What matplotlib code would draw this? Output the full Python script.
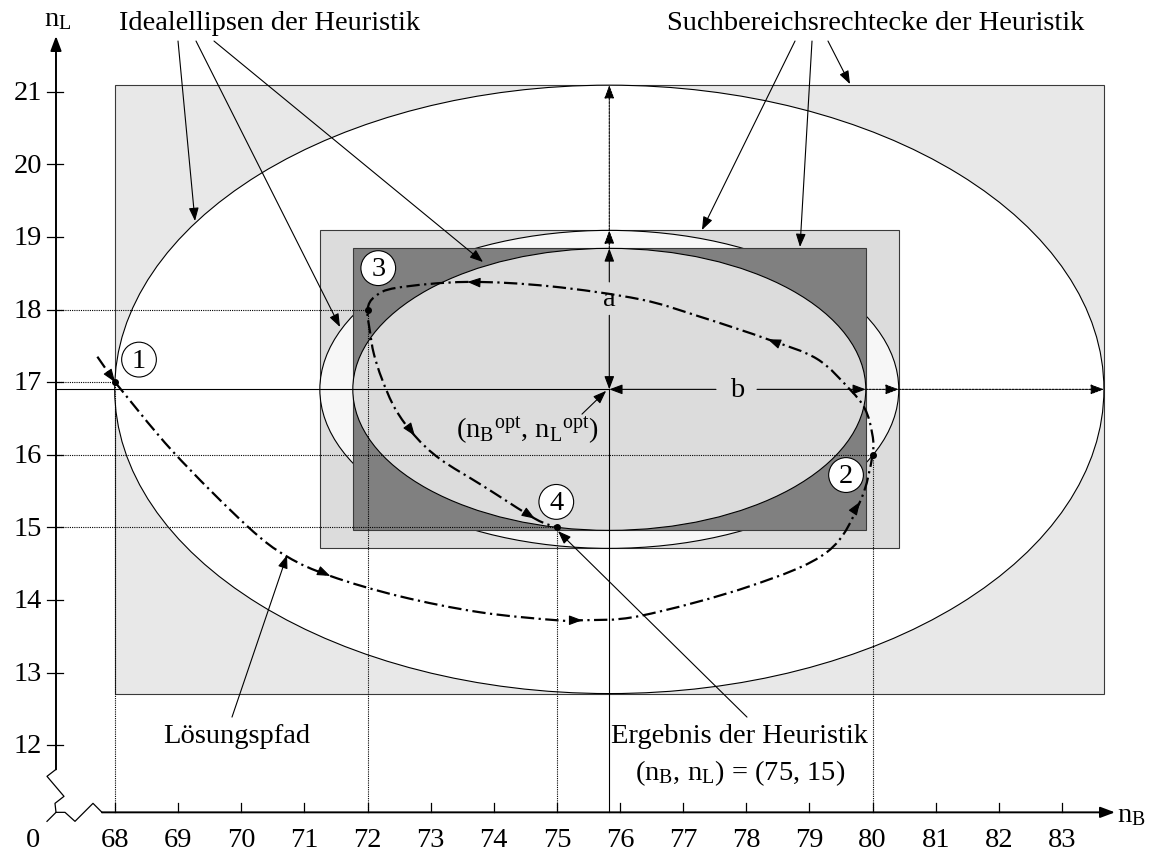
import numpy as np
import matplotlib
matplotlib.use("Agg")
import matplotlib.pyplot as plt
from matplotlib.patches import Rectangle, Ellipse, PathPatch
from matplotlib.path import Path

plt.rcParams['font.family'] = ['Liberation Serif', 'DejaVu Serif']
plt.rcParams['mathtext.fontset'] = 'custom'
plt.rcParams['mathtext.rm'] = 'Liberation Serif'
plt.rcParams['mathtext.it'] = 'Liberation Serif:italic'
FS = 20.5

# ---- data ----
x_ticks = list(range(68, 84))
y_ticks = list(range(12, 22))
center = (75.83, 16.9)
# search rectangles (half width b, half height a), largest first
rect_b = [7.835, 4.585, 4.063]
rect_a = [4.19, 2.19, 1.942]
rect_colors = ['#e8e8e8', '#dcdcdc', '#808080']
ellipse_colors = ['#ffffff', '#f7f7f7', '#dcdcdc']

# visited solutions 1..4
points_x = [68, 80, 72, 75]
points_y = [17, 16, 18, 15]
circle_x = [68.38, 79.58, 72.17, 74.99]
circle_y = [17.31, 15.72, 18.57, 15.35]

# solution path (dash-dot)
lead_in = [(67.72, 17.35), (68.0, 17.0)]
path_pts = [(68.00, 17.00), (68.92, 16.04), (70.09, 15.02), (70.72, 14.60),
            (71.41, 14.33), (72.51, 14.05), (73.78, 13.83), (75.00, 13.72),
            (75.40, 13.72), (76.32, 13.78), (78.06, 14.19), (79.28, 14.66),
            (79.80, 15.35), (80.00, 16.00), (79.99, 16.31), (79.88, 16.63),
            (79.64, 16.90), (79.12, 17.32), (78.34, 17.59), (77.27, 17.90),
            (76.32, 18.14), (74.89, 18.32), (73.58, 18.38), (72.47, 18.30),
            (72.12, 18.18), (72.00, 18.00), (72.04, 17.69), (72.10, 17.39),
            (72.23, 17.04), (72.44, 16.63), (72.75, 16.26), (73.15, 15.94),
            (73.83, 15.57), (74.65, 15.12), (75.00, 15.00)]
path_arrow_idx = [4, 8, 12, 18, 22, 30, 33]

# axis origin and break marks (pixel offsets)
origin = (67.065, 11.074)
px, py = 1 / 63.13, 1 / 72.6
ybreak = [(0, 43), (-9, 36), (8, 16), (-1, 9), (0, 0)]
xbreak = [(-9, -9), (0, 0), (9, 0), (19, -9), (37, 9), (46, 0)]

fig = plt.figure(figsize=(11.51, 8.54), dpi=100)
ax = fig.add_axes([0, 0, 1, 1])
ax.set_xlim(66.178, 84.411)
ax.set_ylim(10.514, 22.277)
ax.axis('off')

HEAD = dict(arrowstyle='-|>,head_length=0.8,head_width=0.3', mutation_scale=10,
            color='k', lw=0.8, shrinkA=0, shrinkB=0)


def arrow(tip, tail, ls='-', zorder=6):
    ax.annotate('', xy=tip, xytext=tail, arrowprops=dict(HEAD, linestyle=ls),
                zorder=zorder)


def head(tip, prev, zorder=7):
    tip = np.array(tip); prev = np.array(prev)
    ax.annotate('', xy=tip, xytext=tip - 0.05 * (tip - prev),
                arrowprops=HEAD, zorder=zorder)


cx, cy = center
for i in range(3):
    b, a = rect_b[i], rect_a[i]
    ax.add_patch(Rectangle((cx - b, cy - a), 2 * b, 2 * a, fc=rect_colors[i],
                           ec='#3a3a3a', lw=0.8, zorder=1 + 2 * i))
    ax.add_patch(Ellipse((cx, cy), 2 * b, 2 * a, fc=ellipse_colors[i],
                         ec='k', lw=0.8, zorder=2 + 2 * i))

# dotted reference lines to the points
ox, oy = origin
dot = dict(color='k', lw=0.8, ls=(0, (1, 1)), zorder=8)
for x, y in zip(points_x, points_y):
    ax.plot([ox, x], [y, y], **dot)
    ax.plot([x, x], [oy, y], **dot)

# centre lines
ax.plot([ox, cx], [cy, cy], color='k', lw=0.8, zorder=8)
ax.plot([cx, cx], [oy, cy], color='k', lw=0.8, zorder=8)

# a and b
top = [cy + a for a in rect_a][::-1]
right = [cx + b for b in rect_b][::-1]
arrow((cx, top[0]), (cx, 18.38))
arrow((cx, cy), (cx, 17.92))
arrow((cx, top[1]), (cx, top[0]), ls=(0, (2, 1)))
arrow((cx, top[2]), (cx, top[1]), ls=(0, (2, 1)))
arrow((cx, cy), (77.52, cy))
arrow((right[0], cy), (78.17, cy))
arrow((right[1], cy), (right[0], cy), ls=(0, (2, 1)))
arrow((right[2], cy), (right[1], cy), ls=(0, (2, 1)))
ax.text(cx, 18.145, 'a', fontsize=FS, ha='center', va='center', zorder=9)
ax.text(77.85, cy, 'b', fontsize=FS, ha='center', va='center', zorder=9)


# solution path
def smooth(pts):
    pts = np.asarray(pts, float)
    verts, codes = [pts[0]], [Path.MOVETO]
    n = len(pts)
    for i in range(n - 1):
        p0, p1 = pts[max(i - 1, 0)], pts[i]
        p2, p3 = pts[i + 1], pts[min(i + 2, n - 1)]
        verts += [p1 + (p2 - p0) / 6, p2 - (p3 - p1) / 6, p2]
        codes += [Path.CURVE4] * 3
    return Path(verts, codes)


dashdot = (0, (6, 2, 1, 2))
ax.add_patch(PathPatch(smooth(path_pts), fill=False, lw=1.6, ls=dashdot,
                       ec='k', zorder=9))
ax.plot(*zip(*lead_in), color='k', lw=1.6, ls=dashdot, zorder=9)
head(lead_in[1], lead_in[0])
for i in path_arrow_idx:
    head(path_pts[i], path_pts[i - 1])

ax.plot(points_x, points_y, 'o', color='k', ms=4, zorder=10)

# circled numbers
for k, (x, y) in enumerate(zip(circle_x, circle_y)):
    ax.add_patch(Ellipse((x, y), 0.55, 0.48, fc='white', ec='k', lw=0.8, zorder=11))
    ax.text(x, y - 0.01, str(k + 1), fontsize=FS, ha='center', va='center', zorder=12)

# pointer arrows with labels
ax.text(70.455, 21.864, 'Idealellipsen der Heuristik', fontsize=FS,
        ha='center', va='baseline')
arrow((69.267, 19.219), (68.998, 21.698), zorder=12)
arrow((71.564, 17.759), (69.283, 21.698), zorder=12)
arrow((73.829, 18.654), (69.568, 21.698), zorder=12)

ax.text(80.047, 21.864, 'Suchbereichsrechtecke der Heuristik', fontsize=FS,
        ha='center', va='baseline')
arrow((77.298, 19.095), (78.772, 21.698), zorder=12)
arrow((78.851, 18.861), (79.041, 21.698), zorder=12)
arrow((79.643, 21.105), (79.294, 21.698), zorder=12)

ax.text(69.933, 12.043, 'Lösungspfad', fontsize=FS, ha='center', va='baseline')
arrow((70.725, 14.617), (69.853, 12.386), zorder=12)

ax.text(77.90, 12.043, 'Ergebnis der Heuristik', fontsize=FS, ha='center', va='baseline')
ax.text(77.90, 11.533, r'(n$_{\rm B}$, n$_{\rm L}$) = (75, 15)', fontsize=FS,
        ha='center', va='baseline')
arrow((75.017, 14.948), (78.011, 12.386), zorder=12)

ax.text(74.526, 16.257, r'(n$_{\rm B}{}^{\rm opt}$, n$_{\rm L}{}^{\rm opt}$)',
        fontsize=FS, ha='center', va='baseline', zorder=12)
arrow((75.78, 16.88), (75.397, 16.559), zorder=12)

# axes with breaks
ybx = [ox + dx * px for dx, dy in ybreak]
yby = [oy + dy * py for dx, dy in ybreak]
ax.plot(ybx, yby, color='k', lw=0.9, zorder=13)
ax.annotate('', xy=(ox, 21.767), xytext=(ox, yby[0]),
            arrowprops=dict(HEAD, lw=1.4, mutation_scale=11), zorder=13)
xbx = [ox + dx * px for dx, dy in xbreak]
xby = [oy + dy * py for dx, dy in xbreak]
ax.plot(xbx, xby, color='k', lw=0.9, zorder=13)
ax.annotate('', xy=(83.84, oy), xytext=(xbx[-1], oy),
            arrowprops=dict(HEAD, lw=1.4, mutation_scale=11), zorder=13)

for x in x_ticks:
    ax.plot([x, x], [oy, oy + 9 * py], color='k', lw=0.9, zorder=13)
    ax.text(x, 10.61, str(x), fontsize=FS, ha='center', va='baseline')
ax.text(66.70, 10.61, '0', fontsize=FS, ha='center', va='baseline')
for y in y_ticks:
    ax.plot([ox - 9 * px, ox + 7 * px], [y, y], color='k', lw=0.9, zorder=13)
    ax.text(66.844, y - 0.1, str(y), fontsize=FS, ha='right', va='baseline')

ax.text(67.097, 21.919, r'n$_{\rm L}$', fontsize=FS, ha='center', va='baseline')
ax.text(83.87, 10.96, r'n$_{\rm B}$', fontsize=FS, ha='left', va='baseline')

fig.savefig('out.png', dpi=100)
